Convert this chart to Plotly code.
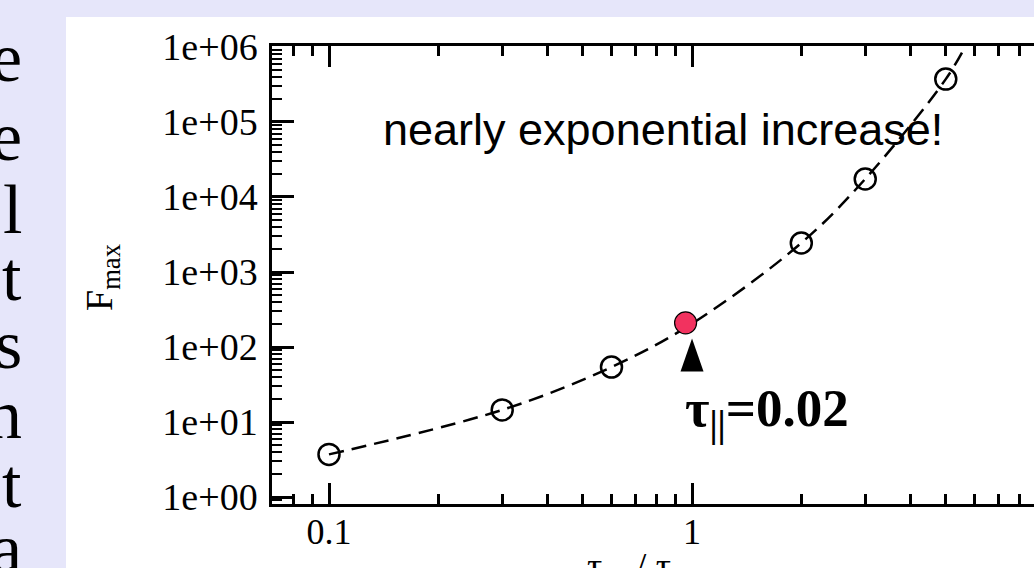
import plotly.graph_objects as go

# ---- data ----
tau_ratio = [0.1, 0.3, 0.6, 1.0, 2.0, 3.0, 5.0]
f_max = [3.7, 14.5, 54.0, 205.0, 2440.0, 17400.0, 373000.0]
curve_end_x = [5.65]          # dashed curve continues to the top frame
curve_end_y = [1.0e6]
highlight_x = [0.96]          # red point (tau_par = 0.02)
highlight_y = [210.0]
highlight_index = 3
y_tickvals = [1, 10, 100, 1e3, 1e4, 1e5, 1e6]
y_ticktext = ["1e+00", "1e+01", "1e+02", "1e+03", "1e+04", "1e+05", "1e+06"]
x_tickvals = [0.1, 1, 10]
x_ticktext = ["0.1", "1", "10"]
side_text = ["e", "e", "l", "et", "s", "n", "t", "a"]
annotation_text = "nearly exponential increase!"
label_text = "<b>τ<sub>||</sub>=0.02</b>"

# ---- geometry (pixels) ----
WIDTH, HEIGHT = 1034, 568
L, R, T, B = 272, 1034, 46, 504
PW, PH = R - L, B - T


def px(x):
    return (x - L) / PW


def py(y):
    return (B - y) / PH


SERIF = "Liberation Serif, Times New Roman, serif"
SANS = "Liberation Sans, Arial, sans-serif"

fig = go.Figure()

# dashed curve
fig.add_trace(go.Scatter(
    x=tau_ratio + curve_end_x, y=f_max + curve_end_y, mode="lines",
    line=dict(color="black", width=2.5, dash="15px,8px", shape="spline"),
    hoverinfo="skip", showlegend=False))

# open circles (all but highlighted)
ox = [v for i, v in enumerate(tau_ratio) if i != highlight_index]
oy = [v for i, v in enumerate(f_max) if i != highlight_index]
fig.add_trace(go.Scatter(
    x=ox, y=oy, mode="markers",
    marker=dict(symbol="circle-open", size=21, color="black", line=dict(width=2.5)),
    showlegend=False))

# red highlighted point
fig.add_trace(go.Scatter(
    x=highlight_x, y=highlight_y, mode="markers",
    marker=dict(symbol="circle", size=22, color="#f2325f", line=dict(color="black", width=1.2)),
    showlegend=False))

shapes = [
    # white slide panel
    dict(type="rect", xref="paper", yref="paper", x0=px(66), x1=px(1040), y0=py(580), y1=py(17),
         fillcolor="white", line=dict(width=0), layer="below"),
    # pointer triangle under the highlighted point
    dict(type="path", xref="x", yref="y", xsizemode="pixel", ysizemode="pixel",
         xanchor=tau_ratio[highlight_index], yanchor=f_max[highlight_index],
         path="M-11.5,-48 L11.5,-48 L0,-15 Z", fillcolor="black", line=dict(width=0)),
]

annotations = [
    dict(xref="paper", yref="paper", x=px(381), y=py(129), xanchor="left", yanchor="middle",
         text=annotation_text, showarrow=False, font=dict(family=SANS, size=45, color="black")),
    dict(xref="paper", yref="paper", x=px(683), y=py(412), xanchor="left", yanchor="middle",
         text=label_text, showarrow=False, font=dict(family=SERIF, size=53, color="black")),
    dict(xref="paper", yref="paper", x=px(102), y=py(278), xanchor="center", yanchor="middle",
         text="F<sub>max</sub>", textangle=-90, showarrow=False,
         font=dict(family=SERIF, size=38, color="black")),
    dict(xref="paper", yref="paper", x=px(634), y=py(569), xanchor="center", yanchor="middle",
         text="τ<sub>⊥</sub> / τ<sub>||</sub>", showarrow=False,
         font=dict(family=SERIF, size=38, color="black")),
]

side_baselines = [82, 160, 233, 300, 368, 438, 507, 572]
for txt, yb in zip(side_text, side_baselines):
    annotations.append(dict(
        xref="paper", yref="paper", x=px(24), y=py(yb - 24), xanchor="right", yanchor="middle",
        text=txt, showarrow=False, font=dict(family=SERIF, size=70, color="black")))

fig.update_layout(
    width=WIDTH, height=HEIGHT,
    margin=dict(l=L, r=WIDTH - R, t=T, b=HEIGHT - B, pad=0),
    paper_bgcolor="#e6e6fa", plot_bgcolor="white",
    showlegend=False,
    shapes=shapes, annotations=annotations,
    xaxis=dict(
        type="log", range=[-1.157, 0.942], showgrid=False, zeroline=False,
        showline=True, linecolor="black", linewidth=2.5, mirror="ticks",
        ticks="inside", ticklen=21, tickwidth=2.5, tickcolor="black",
        tickmode="array", tickvals=x_tickvals, ticktext=x_ticktext,
        tickfont=dict(family=SERIF, size=36, color="black"), ticklabelstandoff=-6,
        minor=dict(ticks="inside", ticklen=10, tickwidth=2.5, tickcolor="black",
                   dtick="D1", showgrid=False),
    ),
    yaxis=dict(
        type="log", range=[-0.093, 6.013], showgrid=False, zeroline=False,
        showline=True, linecolor="black", linewidth=2.5, mirror=False,
        ticks="inside", ticklen=22, tickwidth=2.5, tickcolor="black",
        tickmode="array", tickvals=y_tickvals, ticktext=y_ticktext,
        tickfont=dict(family=SERIF, size=38, color="black"), ticklabelstandoff=4,
        minor=dict(ticks="inside", ticklen=10, tickwidth=2, tickcolor="black",
                   dtick="D1", showgrid=False),
    ),
)

fig.write_html("out.html", config={"displayModeBar": False},
               post_script="document.body.style.margin='0px';")
